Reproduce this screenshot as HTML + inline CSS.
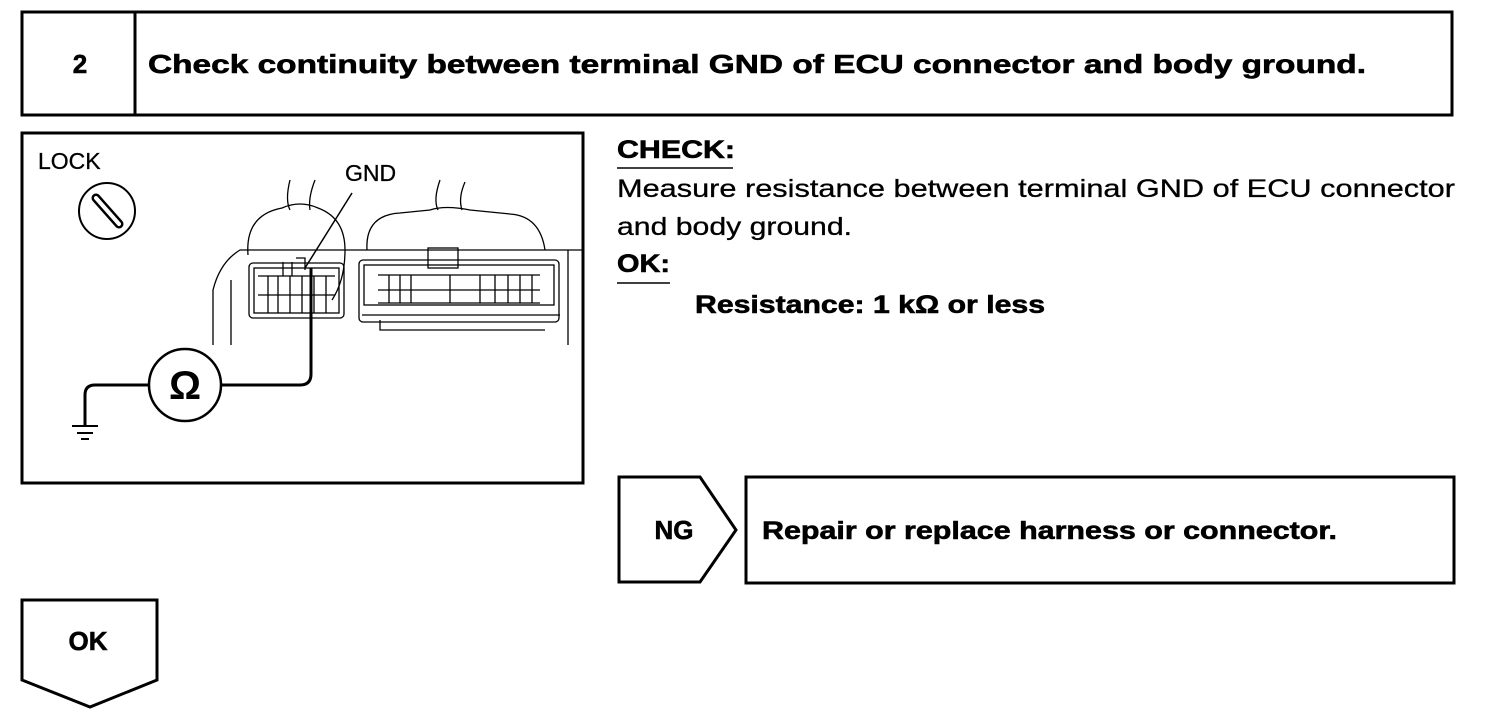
<!DOCTYPE html>
<html><head><meta charset="utf-8"><style>
html,body{margin:0;padding:0;background:#fff;}
svg{display:block;}
text{font-family:"Liberation Sans",sans-serif;fill:#000;}
.b{stroke:#000;stroke-width:0.6;}
</style></head><body>
<svg width="1504" height="722" viewBox="0 0 1504 722" xmlns="http://www.w3.org/2000/svg">
<g fill="none" stroke="#000" stroke-width="3">
<rect x="22" y="12" width="1430" height="103"/>
<line x1="135" y1="12" x2="135" y2="115"/>
<rect x="22" y="133" width="561" height="350"/>
<polygon points="619,477 700,477 736,530 700,582 619,582"/>
<rect x="746" y="477" width="708" height="106"/>
<polygon points="22,600 157,600 157,680 90,707 22,680"/>
</g>
<text class="b" x="80" y="73" font-size="26" font-weight="bold" text-anchor="middle">2</text>
<text class="b" x="148" y="73" font-size="26" font-weight="bold" textLength="1218" lengthAdjust="spacingAndGlyphs">Check continuity between terminal GND of ECU connector and body ground.</text>

<text class="b" x="617" y="158" font-size="25" font-weight="bold" textLength="118" lengthAdjust="spacingAndGlyphs">CHECK:</text>
<line x1="617" y1="168" x2="733" y2="168" stroke="#000" stroke-width="1.5"/>
<text x="617" y="197" font-size="25" stroke="#000" stroke-width="0.3" textLength="838" lengthAdjust="spacingAndGlyphs">Measure resistance between terminal GND of ECU connector</text>
<text x="617" y="235" font-size="25" stroke="#000" stroke-width="0.3" textLength="235" lengthAdjust="spacingAndGlyphs">and body ground.</text>
<text class="b" x="617" y="272" font-size="25" font-weight="bold" textLength="53" lengthAdjust="spacingAndGlyphs">OK:</text>
<line x1="617" y1="283" x2="670" y2="283" stroke="#000" stroke-width="1.5"/>
<text class="b" x="695" y="313" font-size="25" font-weight="bold" textLength="350" lengthAdjust="spacingAndGlyphs">Resistance: 1 kΩ or less</text>

<text class="b" x="674" y="539" font-size="26" font-weight="bold" text-anchor="middle">NG</text>
<text class="b" x="762" y="539" font-size="25" font-weight="bold" textLength="575" lengthAdjust="spacingAndGlyphs">Repair or replace harness or connector.</text>
<text class="b" x="88" y="650" font-size="26" font-weight="bold" text-anchor="middle">OK</text>

<!-- diagram -->
<text x="38" y="169" font-size="23" stroke="#000" stroke-width="0.3">LOCK</text>
<text x="345" y="181" font-size="23" stroke="#000" stroke-width="0.3">GND</text>
<text x="185" y="399" font-size="40" font-weight="bold" text-anchor="middle">Ω</text>
<g fill="none" stroke="#000">
<circle cx="107" cy="211" r="28" stroke-width="2"/>
<line x1="96" y1="198" x2="119" y2="224" stroke-width="9" stroke-linecap="round"/>
<line x1="96" y1="198" x2="119" y2="224" stroke="#fff" stroke-width="4" stroke-linecap="round"/>
<circle cx="185" cy="385" r="36" stroke-width="2.5"/>
<path d="M149,385 H95 Q85,385 85,395 V426" stroke-width="3"/>
<path d="M72,426 H98 M77,433 H93 M81,439 H89" stroke-width="2"/>
<path d="M221,385 H300 Q311,385 311,374 V268" stroke-width="3"/>
<line x1="352" y1="193" x2="305" y2="268" stroke-width="1.5"/>
<g stroke-width="1.3">
<path d="M213,345 V290 Q220,262 240,250 H583"/>
<line x1="231" y1="280" x2="231" y2="345"/>
<path d="M248,255 Q245,215 282,208 Q300,200 318,208 Q345,218 345,250 Q345,280 332,300"/>
<path d="M290,180 Q285,200 290,210 M315,180 Q308,198 310,210"/>
<path d="M367,250 Q365,215 400,213 L430,210 Q445,205 470,210 L510,214 Q540,216 545,250"/>
<path d="M440,180 Q433,200 438,210 M465,182 Q458,198 462,210"/>
<rect x="249" y="263" width="95" height="55" rx="4"/>
<rect x="254" y="268" width="85" height="45"/>
<path d="M258,276 H335 M258,295 H335 M268,276 V313 M278,276 V313 M290,276 V313 M302,276 V313 M314,276 V313 M326,276 V313"/>
<path d="M283,262 V276 M292,262 V276 M296,258 H305 V270"/>
<rect x="359" y="260" width="200" height="62" rx="4"/>
<rect x="364" y="265" width="190" height="40"/>
<path d="M378,275 H540 M378,290 H540 M378,303 H540 M389,275 V303 M400,275 V303 M411,275 V303 M450,275 V303 M480,275 V303 M495,275 V303 M508,275 V303 M520,275 V303 M532,275 V303"/>
<rect x="428" y="248" width="30" height="20"/>
<path d="M362,315 H560 M380,320 V330 H545"/>
<line x1="568" y1="250" x2="568" y2="345"/>
</g>
</g>
</svg>
</body></html>
